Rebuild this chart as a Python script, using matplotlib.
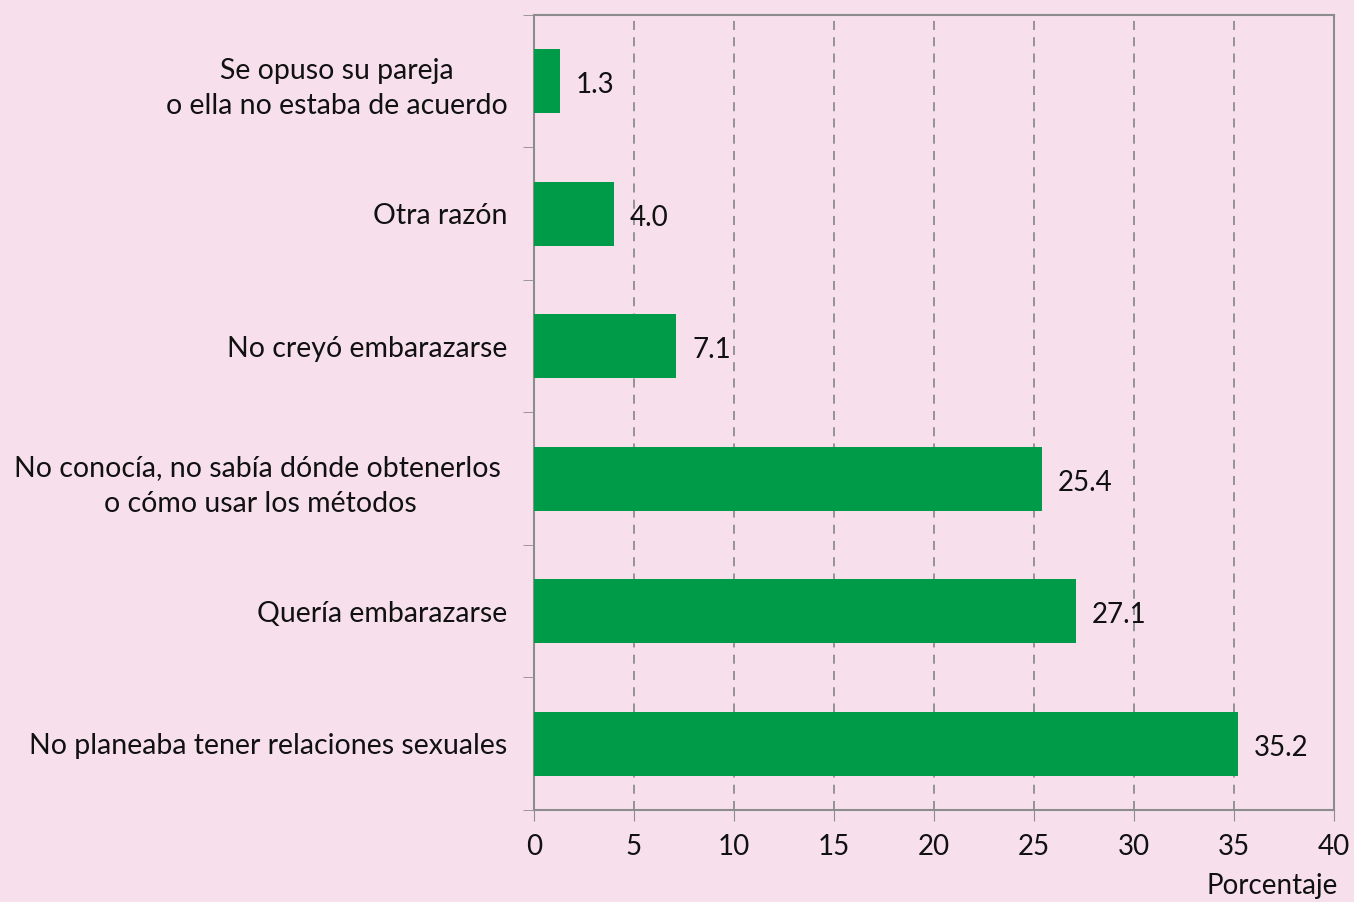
import numpy as np
import matplotlib.pyplot as plt

# razones (de abajo hacia arriba)
razones = ["No planeaba tener relaciones sexuales",
           "Quería embarazarse",
           "No conocía, no sabía dónde obtenerlos \no cómo usar los métodos",
           "No creyó embarazarse",
           "Otra razón",
           "Se opuso su pareja\no ella no estaba de acuerdo"]
porcentaje = [35.2, 27.1, 25.4, 7.1, 4.0, 1.3]

fondo = "#F7E0EC"
verde = "#009B48"
gris = "#8C8C8C"

plt.rcParams['font.family'] = ['Lato', 'DejaVu Sans']

fig = plt.figure(figsize=(13.54, 9.02), dpi=100, facecolor=fondo)
ax = fig.add_axes([0.3944, 0.102, 0.5908, 0.8814])
ax.set_facecolor(fondo)

y = np.arange(len(razones))
ax.barh(y, porcentaje, height=0.48, color=verde, zorder=3)

for yi, v in zip(y, porcentaje):
    ax.text(v + 0.8, yi - 0.03, f"{v:.1f}", va="center", ha="left",
            fontsize=20, color="#111111", zorder=4)

ax.set_xlim(0, 40)
ax.set_ylim(-0.5, 5.5)
ax.set_xticks(np.arange(0, 41, 5))
ax.tick_params(axis="x", labelsize=20, length=8, color=gris, pad=9,
               labelcolor="#111111")

# etiquetas de categorias sin marca; marcas en los limites
ax.set_yticks(y)
ax.set_yticklabels(razones, fontsize=20.5, multialignment="center",
                   color="#111111", linespacing=1.45)
ax.tick_params(axis="y", length=0, pad=19)
ax.set_yticks(np.arange(-0.5, 6, 1), minor=True)
ax.tick_params(axis="y", which="minor", length=8, color=gris)

ax.xaxis.grid(True, linestyle=(0, (5, 4)), color=gris, linewidth=1.3)
ax.set_axisbelow(True)
for s in ax.spines.values():
    s.set_color(gris)
    s.set_linewidth(1.5)

fig.text(0.988, 0.003, "Porcentaje", ha="right", va="bottom",
         fontsize=20, color="#111111")

fig.savefig("out.png", dpi=100, facecolor=fondo)
